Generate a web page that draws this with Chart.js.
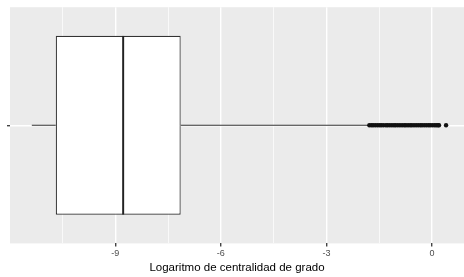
<!DOCTYPE html>
<html>
<head>
<meta charset="utf-8">
<script src="https://cdn.jsdelivr.net/npm/chart.js@4"></script>
<style>
  html, body { margin: 0; padding: 0; background: #fff; overflow: hidden; }
  #wrap { width: 468px; height: 277px; }
</style>
</head>
<body>
<div id="wrap"><canvas id="myChart"></canvas></div>
<script>
// boxplot stats (log of degree centrality)
var category = "grado";
var whiskerLow = -11.37;
var q1 = -10.69;
var median = -8.74;
var q3 = -7.14;
var whiskerHigh = -1.8;
var outliers = [-1.78, -1.72, -1.67, -1.61, -1.55, -1.49, -1.44, -1.38, -1.31, -1.26, -1.2, -1.14,
  -1.08, -1.03, -0.97, -0.91, -0.85, -0.79, -0.74, -0.68, -0.62, -0.57, -0.51, -0.45, -0.39,
  -0.33, -0.28, -0.22, -0.16, -0.1, -0.05, 0.01, 0.07, 0.12, 0.17, 0.2, 0.4];
var majorTicks = [-9, -6, -3, 0];

var canvas = document.getElementById("myChart");

// grey panel like ggplot
const panelBg = {
  id: "panelBg",
  beforeDraw(chart) {
    const a = chart.chartArea;
    const ctx = chart.ctx;
    ctx.save();
    ctx.fillStyle = "#EBEBEB";
    ctx.fillRect(a.left, a.top, a.right - a.left, a.bottom - a.top);
    ctx.restore();
  },
};

function isMajor(v) {
  return majorTicks.some((m) => Math.abs(m - v) < 1e-6);
}

var data = {
  labels: [category],
  datasets: [
    {
      type: "bar",
      order: 3,
      data: [[q1, q3]],
      backgroundColor: "#ffffff",
      borderColor: "#333333",
      borderWidth: 1.2,
      borderSkipped: false,
      grouped: false,
      barPercentage: 0.758,
      categoryPercentage: 1,
    },
    {
      // median line: only the right edge of [q1, median]
      type: "bar",
      order: 2,
      data: [[q1, median]],
      backgroundColor: "rgba(0,0,0,0)",
      borderColor: "#222222",
      borderWidth: { left: 0, top: 0, bottom: 0, right: 2.2 },
      borderSkipped: false,
      grouped: false,
      barPercentage: 0.758,
      categoryPercentage: 1,
    },
    {
      type: "line",
      order: 1,
      indexAxis: "y",
      data: [{ x: whiskerLow, y: category }, { x: q1, y: category }],
      borderColor: "#333333",
      borderWidth: 1.1,
      pointRadius: 0,
    },
    {
      type: "line",
      order: 1,
      indexAxis: "y",
      data: [{ x: q3, y: category }, { x: whiskerHigh, y: category }],
      borderColor: "#333333",
      borderWidth: 1.1,
      pointRadius: 0,
    },
    {
      type: "line",
      order: 0,
      indexAxis: "y",
      showLine: false,
      data: outliers.map((v) => ({ x: v, y: category })),
      pointRadius: 2.2,
      pointBorderWidth: 0,
      pointBackgroundColor: "#111111",
    },
  ],
};

new Chart(canvas, {
  type: "bar",
  data: data,
  plugins: [panelBg],
  options: {
    indexAxis: "y",
    responsive: true,
    maintainAspectRatio: false,
    animation: false,
    layout: { padding: { left: 7, right: 0, top: 7, bottom: 2 } },
    plugins: { legend: { display: false }, tooltip: { enabled: false } },
    scales: {
      x: {
        type: "linear",
        min: -11.99,
        max: 0.91,
        border: { display: false },
        grid: {
          color: "#ffffff",
          lineWidth: (c) => (c.tick && isMajor(c.tick.value) ? 1.4 : 0.7),
          tickColor: (c) => (c.tick && isMajor(c.tick.value) ? "#444444" : "rgba(0,0,0,0)"),
          tickLength: 3,
        },
        ticks: {
          stepSize: 1.5,
          includeBounds: false,
          autoSkip: false,
          maxRotation: 0,
          padding: 2,
          color: "#4D4D4D",
          font: { family: "Liberation Sans, Arial", size: 9 },
          callback: (v) => (isMajor(v) ? String(v) : ""),
        },
        title: {
          display: true,
          text: "Logaritmo de centralidad de grado",
          color: "#000000",
          font: { family: "Liberation Sans, Arial", size: 11.5 },
          padding: { top: 0, bottom: 0 },
        },
      },
      y: {
        type: "category",
        offset: true,
        border: { display: false },
        grid: { color: "#ffffff", lineWidth: 1.4, offset: false, tickColor: "#444444", tickLength: 3 },
        ticks: { display: true, padding: 0, callback: () => "" },
      },
    },
  },
});
</script>
</body>
</html>
